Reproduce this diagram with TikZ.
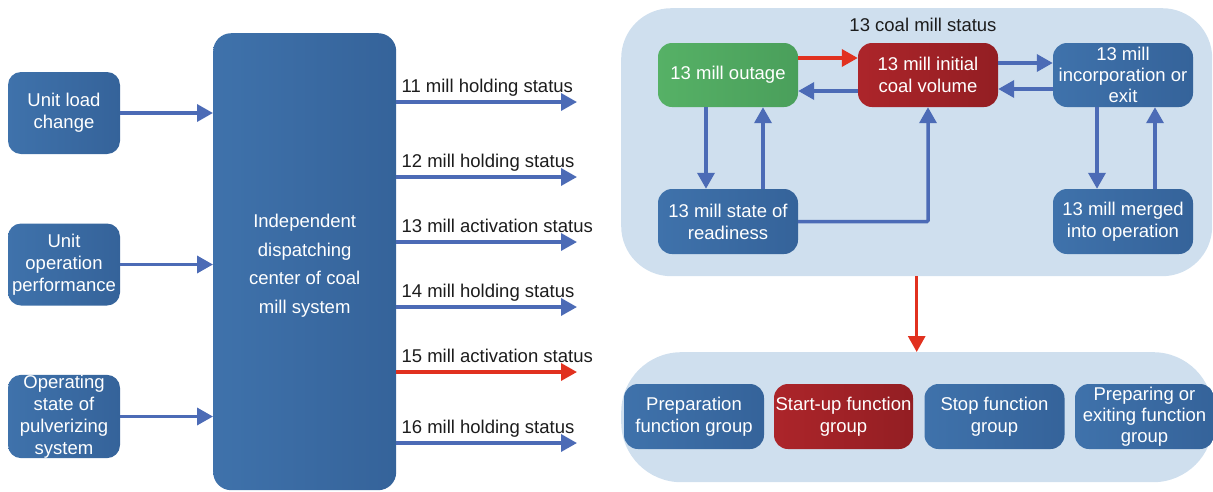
\documentclass[tikz,border=0pt]{standalone}
\usepackage{fontspec}
\setmainfont{Liberation Sans}
\usetikzlibrary{arrows.meta,calc}
\definecolor{boxblue}{HTML}{3F72AB}
\definecolor{boxblueD}{HTML}{35639A}
\definecolor{panelblue}{HTML}{CFDFEE}
\definecolor{arrblue}{HTML}{4C6BB6}
\definecolor{arrred}{HTML}{E1311F}
\definecolor{boxgreen}{HTML}{56B166}
\definecolor{boxgreenD}{HTML}{4A9F5B}
\definecolor{boxred}{HTML}{AC252A}
\definecolor{boxredD}{HTML}{931E23}
\definecolor{labgray}{HTML}{1C1C1C}

\begin{document}
\begin{tikzpicture}[x=1pt,y=-1pt,
  txt/.style={font=\fontsize{18.5}{22}\selectfont, align=center},
  bbox/.style={txt, text=white, rounded corners=14pt, inner sep=0pt,
    left color=boxblue, right color=boxblueD},
  gbox/.style={bbox, left color=boxgreen, right color=boxgreenD},
  rbox/.style={bbox, left color=boxred, right color=boxredD},
  sbox/.style={minimum width=140pt, minimum height=65pt},
  lbox/.style={minimum width=112pt, minimum height=82pt, rounded corners=13pt},
  panel/.style={fill=panelblue, inner sep=0pt, anchor=north west},
  lab/.style={txt, text=labgray, inner sep=0pt, anchor=base west},
  arr/.style={draw=arrblue, line width=3.5pt, -{Triangle[length=16pt,width=17pt]}},
  rarr/.style={arr, draw=arrred}]
\useasboundingbox (0,0) rectangle (1213,491);

% background panels on the right
\node[panel, rounded corners=50pt, minimum width=591pt, minimum height=268pt] (stat) at (621,8) {};
\node[panel, rounded corners=60pt, minimum width=592pt, minimum height=130pt] (func) at (621,352) {};
\node[txt, text=labgray, inner sep=0pt] (title) at (923,25) {13 coal mill status};

% input boxes
\node[bbox, lbox] (load) at (64,113) {\raisebox{-3pt}{\begin{tabular}{@{}c@{}}Unit load\\change\end{tabular}}};
\node[bbox, lbox] (perf) at (64,264.5) {Unit\\operation\\performance};
\node[bbox, lbox, minimum height=83pt] (pulv) at (64,416.5) {Operating\\state of\\pulverizing\\system};

% dispatching centre
\node[bbox, rounded corners=18pt, minimum width=183pt, minimum height=457pt,
  anchor=north west] (disp) at (213,33) {};
\node[txt, text=white, font=\fontsize{18.5}{28.5}\selectfont] (disptxt)
  at ([yshift=-4pt]disp.center) {Independent\\dispatching\\center of coal\\mill system};

\foreach \s in {load,perf,pulv}
  \draw[arr] (\s.east) -- (\s.east -| disp.west);

% mill status outputs
\foreach \n/\y/\t/\st in {11/102/holding/arr, 12/177/holding/arr, 13/242/activation/arr,
    14/307/holding/arr, 15/372/activation/rarr, 16/443/holding/arr} {
  \coordinate (o\n) at (577,\y);
  \draw[\st] (disp.east |- o\n) -- (o\n);
  \node[lab] (l\n) at ([xshift=5pt,yshift=10pt]disp.east |- o\n) {\n\ mill \t\ status};
}

% states of mill 13
\node[gbox, sbox, minimum height=64pt] (outage) at (728,75) {13 mill outage};
\node[rbox, sbox, minimum height=64pt] (init) at (928,75) {13 mill initial\\coal volume};
\node[bbox, sbox, minimum height=64pt, font=\fontsize{18.5}{21}\selectfont] (incorp) at (1123,75) {13 mill\\incorporation or\\exit};
\node[bbox, sbox] (ready) at (728,221.5) {13 mill state of\\readiness};
\node[bbox, sbox] (merged) at (1123,221.5) {13 mill merged\\into operation};

\draw[rarr] ([yshift=17pt]outage.east) -- ([yshift=17pt]outage.east -| init.west);
\draw[arr] ([yshift=-16pt]init.west) -- ([yshift=-16pt]init.west -| outage.east);
\draw[arr] ([yshift=12pt]init.east) -- ([yshift=12pt]init.east -| incorp.west);
\draw[arr] ([yshift=-14pt]incorp.west) -- ([yshift=-14pt]incorp.west -| init.east);
\draw[arr] ([xshift=-22pt]outage.south) -- ([xshift=-22pt]ready.north);
\draw[arr] ([xshift=35pt]ready.north) -- ([xshift=35pt]outage.south);
\draw[arr] ([xshift=-26pt]incorp.south) -- ([xshift=-26pt]merged.north);
\draw[arr] ([xshift=32pt]merged.north) -- ([xshift=32pt]incorp.south);
\draw[arr, rounded corners=1pt] (ready.east) -| (init.south);

% function groups
\node[bbox, sbox] (prep) at (694,416.5) {Preparation\\function group};
\node[rbox, sbox, minimum width=139pt] (start) at (843.5,416.5) {Start-up function\\group};
\node[bbox, sbox] (stop) at (994.5,416.5) {Stop function\\group};
\node[bbox, sbox, minimum width=139pt, font=\fontsize{18.5}{21}\selectfont] (prepx) at (1144.5,416.5) {Preparing or\\exiting function\\group};

\draw[rarr, line width=3pt] (stat.south) -- (stat.south |- func.north);
\end{tikzpicture}
\end{document}
